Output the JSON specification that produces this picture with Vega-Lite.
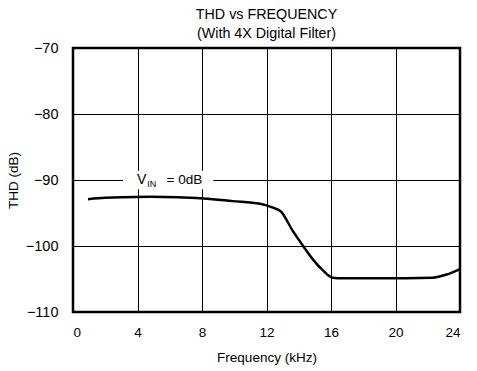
{
  "$schema": "https://vega.github.io/schema/vega-lite/v6.json",
  "width": 387,
  "height": 264,
  "autosize": {"type": "none"},
  "padding": {"left": 73, "top": 48, "right": 17, "bottom": 59},
  "background": "white",
  "config": {
    "font": "Liberation Sans",
    "view": {"stroke": "black", "strokeWidth": 2.5},
    "axis": {"domain": false, "ticks": false, "labelFont": "Liberation Sans", "labelFontSize": 13.5, "labelColor": "black", "titleFont": "Liberation Sans", "titleFontSize": 13.5, "titleFontWeight": "normal", "titleColor": "black", "gridColor": "black", "gridOpacity": 1}
  },
  "title": {
    "text": ["THD vs FREQUENCY", "(With 4X Digital Filter)"],
    "fontSize": 14.3,
    "fontWeight": "normal",
    "font": "Liberation Sans",
    "color": "black",
    "lineHeight": 19,
    "offset": -1,
    "anchor": "middle"
  },
  "layer": [
    {
      "data": {"values": [{"x1": 3.1, "x2": 8.7, "y1": -91.4, "y2": -88.6}]},
      "mark": {"type": "rect", "color": "white"},
      "encoding": {
        "x": {"field": "x1", "type": "quantitative", "scale": {"domain": [0, 24], "nice": false}, "axis": {"values": [0, 4, 8, 12, 16, 20, 24], "title": "Frequency (kHz)", "labelPadding": 13, "labelDx": 3, "titlePadding": 12, "gridWidth": 1}},
        "x2": {"field": "x2"},
        "y": {"field": "y1", "type": "quantitative", "scale": {"domain": [-110, -70], "nice": false}, "axis": {"values": [-110, -105, -100, -95, -90, -85, -80, -75, -70], "labelExpr": "datum.value % 10 == 0 ? datum.label : ''", "labelFontSize": 14.5, "title": "THD (dB)", "labelPadding": 15, "titlePadding": 5, "gridWidth": 1, "gridColor": {"condition": {"test": "datum.value % 10 == 0", "value": "black"}, "value": "#444444"}}},
        "y2": {"field": "y2"}
      }
    },
    {
      "data": {"values": [
        {"f": 0.93, "db": -92.9},
        {"f": 2, "db": -92.7},
        {"f": 3, "db": -92.6},
        {"f": 4.8, "db": -92.55},
        {"f": 6.5, "db": -92.6},
        {"f": 8.1, "db": -92.8},
        {"f": 9.9, "db": -93.2},
        {"f": 11.6, "db": -93.6},
        {"f": 12.4, "db": -94.2},
        {"f": 12.9, "db": -94.8},
        {"f": 13.6, "db": -97.6},
        {"f": 14.3, "db": -100.1},
        {"f": 14.9, "db": -102.1},
        {"f": 15.5, "db": -103.7},
        {"f": 16.1, "db": -104.8},
        {"f": 16.7, "db": -104.9},
        {"f": 19, "db": -104.9},
        {"f": 22.3, "db": -104.8},
        {"f": 23.2, "db": -104.3},
        {"f": 24, "db": -103.5}
      ]},
      "mark": {"type": "line", "color": "black", "strokeWidth": 2.5, "interpolate": "monotone"},
      "encoding": {
        "x": {"field": "f", "type": "quantitative"},
        "y": {"field": "db", "type": "quantitative"}
      }
    },
    {
      "data": {"values": [{"f": 3.97, "db": -90, "t": "V"}]},
      "mark": {"type": "text", "align": "left", "baseline": "middle", "fontSize": 14, "color": "black"},
      "encoding": {
        "x": {"field": "f", "type": "quantitative"},
        "y": {"field": "db", "type": "quantitative"},
        "text": {"field": "t"}
      }
    },
    {
      "data": {"values": [{"f": 4.6, "db": -90, "t": "IN"}]},
      "mark": {"type": "text", "align": "left", "baseline": "middle", "fontSize": 9, "dy": 4, "color": "black"},
      "encoding": {
        "x": {"field": "f", "type": "quantitative"},
        "y": {"field": "db", "type": "quantitative"},
        "text": {"field": "t"}
      }
    },
    {
      "data": {"values": [{"f": 5.8, "db": -90, "t": "= 0dB"}]},
      "mark": {"type": "text", "align": "left", "baseline": "middle", "fontSize": 13.5, "color": "black"},
      "encoding": {
        "x": {"field": "f", "type": "quantitative"},
        "y": {"field": "db", "type": "quantitative"},
        "text": {"field": "t"}
      }
    }
  ]
}
